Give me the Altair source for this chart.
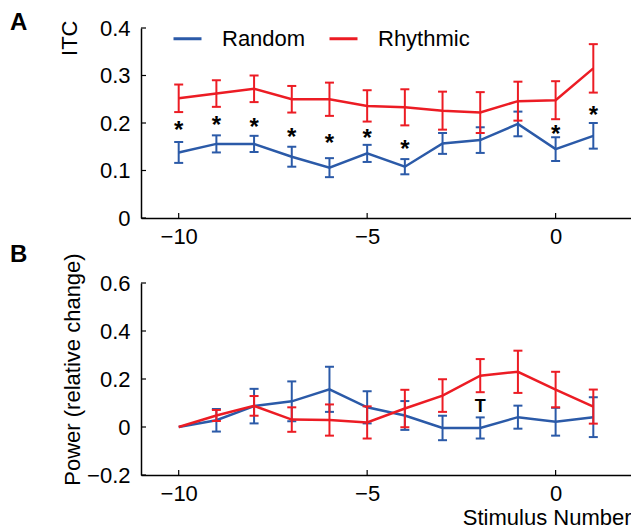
import altair as alt
import pandas as pd

# ---------------- data ----------------
stimulus = [-10, -9, -8, -7, -6, -5, -4, -3, -2, -1, 0, 1]
series = ["Random", "Rhythmic"]
colors = ["#2b5aa8", "#ec1c24"]

itc_random = [0.138, 0.156, 0.156, 0.129, 0.106, 0.136, 0.108, 0.157, 0.164, 0.198, 0.145, 0.173]
itc_random_err = [0.022, 0.018, 0.017, 0.021, 0.020, 0.018, 0.016, 0.022, 0.027, 0.026, 0.025, 0.027]
itc_rhythmic = [0.252, 0.262, 0.272, 0.250, 0.250, 0.236, 0.233, 0.226, 0.222, 0.246, 0.248, 0.315]
itc_rhythmic_err = [0.029, 0.028, 0.028, 0.028, 0.035, 0.033, 0.038, 0.040, 0.043, 0.041, 0.040, 0.051]
star_x = [-10, -9, -8, -7, -6, -5, -4, 0, 1]
star_y = [0.195, 0.206, 0.203, 0.182, 0.169, 0.178, 0.155, 0.187, 0.227]

pow_random = [0.0, 0.028, 0.087, 0.107, 0.157, 0.082, 0.048, -0.004, -0.004, 0.041, 0.022, 0.041]
pow_random_err = [0.0, 0.047, 0.072, 0.083, 0.094, 0.067, 0.060, 0.051, 0.044, 0.048, 0.058, 0.083]
pow_rhythmic = [0.0, 0.048, 0.088, 0.031, 0.029, 0.019, 0.077, 0.131, 0.214, 0.230, 0.156, 0.085]
pow_rhythmic_err = [0.0, 0.023, 0.041, 0.051, 0.065, 0.067, 0.078, 0.068, 0.069, 0.088, 0.074, 0.071]
t_x = [-2]
t_y = [0.085]

itc_ticks = [0, 0.1, 0.2, 0.3, 0.4]
pow_ticks = [-0.2, 0, 0.2, 0.4, 0.6]
x_ticks = [-10, -5, 0]

# ---------------- style ----------------
FONT = "Liberation Sans"
W = 490
H_TOP = 190
H_BOT = 192
XDOM = [-11, 2]


def frame(means, errs, name):
    return pd.DataFrame({
        "x": stimulus,
        "y": means,
        "err": errs,
        "lo": [m - e for m, e in zip(means, errs)],
        "hi": [m + e for m, e in zip(means, errs)],
        "series": name,
    })


def panel(data_pairs, ydom, yaxis, ytick_vals, xaxis, height, show_legend, extra):
    xs = alt.Scale(domain=XDOM, nice=False, zero=False)
    ys = alt.Scale(domain=ydom, nice=False, zero=False)
    cs = alt.Scale(domain=series, range=colors)

    def X(f):
        return alt.X(f, type="quantitative", scale=xs, axis=xaxis)

    def Y(f):
        return alt.Y(f, type="quantitative", scale=ys, axis=yaxis)

    layers = []
    for (df, name, col) in data_pairs:
        leg = alt.Legend(
            title=None, orient="none", legendX=31, legendY=-5,
            direction="horizontal", symbolType="stroke", symbolSize=784,
            symbolStrokeWidth=3, labelFont=FONT, labelFontSize=22,
            labelColor="black", labelOffset=19, columnPadding=17, padding=0,
        ) if show_legend else None
        line = alt.Chart(df).mark_line(strokeWidth=2.5).encode(
            x=X("x"), y=Y("y"),
            color=alt.Color("series:N", scale=cs, legend=leg),
        )
        bars = df[df["err"] > 0]
        rule = alt.Chart(bars).mark_rule(strokeWidth=2, color=col).encode(
            x=X("x"), y=Y("lo"), y2="hi",
        )
        caps_df = pd.concat([
            bars.assign(cap=bars["lo"]),
            bars.assign(cap=bars["hi"]),
        ])
        caps = alt.Chart(caps_df).mark_tick(
            orient="horizontal", size=9, thickness=2, color=col, opacity=1
        ).encode(x=X("x"), y=Y("cap"))
        layers += [line, rule, caps]

    # inward ticks on axes
    ytick_df = pd.DataFrame({"v": ytick_vals})
    ytk = alt.Chart(ytick_df).mark_rule(color="black", strokeWidth=1.2).encode(
        y=Y("v"), x=alt.value(0), x2=alt.value(5)
    )
    xtick_df = pd.DataFrame({"v": x_ticks})
    xtk = alt.Chart(xtick_df).mark_rule(color="black", strokeWidth=1.2).encode(
        x=X("v"), y=alt.value(height), y2=alt.value(height - 5)
    )
    layers += [ytk, xtk]
    layers += [e(X, Y) for e in extra]
    return alt.layer(*layers).properties(width=W, height=height)


top_y_axis = alt.Axis(
    values=itc_ticks,
    labelExpr="datum.value == 0 ? '0' : format(datum.value, '.1f')",
    title="ITC", titleAngle=270, titleAlign="right", titleBaseline="alphabetic",
    titleX=-65, titleY=-8, labelPadding=11,
)
bot_y_axis = alt.Axis(
    values=pow_ticks,
    labelExpr="datum.value == 0 ? '0' : format(datum.value, '.1f')",
    title="Power (relative change)", titleAngle=270, titleAlign="center",
    titleBaseline="alphabetic", titleX=-62, titleY=86, labelPadding=11,
)

top_x_axis = alt.Axis(values=x_ticks, title=None, labelPadding=8)
bot_x_axis = alt.Axis(
    values=x_ticks, title="Stimulus Number", titleAlign="right",
    titleAnchor="end", titleX=W, titleY=49, titleBaseline="alphabetic",
    labelPadding=8,
)

stars_df = pd.DataFrame({"x": star_x, "y": star_y})
t_df = pd.DataFrame({"x": t_x, "y": t_y})


def stars(X, Y):
    return alt.Chart(stars_df).mark_text(
        text="*", font=FONT, fontSize=24, fontWeight="bold", color="black",
        baseline="middle", dy=6,
    ).encode(x=X("x"), y=Y("y"))


def tmark(X, Y):
    return alt.Chart(t_df).mark_text(
        text="T", font=FONT, fontSize=18, fontWeight="bold", color="black",
        baseline="middle",
    ).encode(x=X("x"), y=Y("y"))


def letter(txt, yoff):
    def f(X, Y):
        return alt.Chart(pd.DataFrame({"t": [txt]})).mark_text(
            font=FONT, fontSize=24, fontWeight="bold", color="black",
            align="left", baseline="top",
        ).encode(x=alt.value(-131), y=alt.value(yoff), text="t:N")
    return f


top = panel(
    [(frame(itc_random, itc_random_err, "Random"), "Random", colors[0]),
     (frame(itc_rhythmic, itc_rhythmic_err, "Rhythmic"), "Rhythmic", colors[1])],
    [0, 0.4], top_y_axis, itc_ticks, top_x_axis, H_TOP, True,
    [stars, letter("A", -17)],
)
bottom = panel(
    [(frame(pow_random, pow_random_err, "Random"), "Random", colors[0]),
     (frame(pow_rhythmic, pow_rhythmic_err, "Rhythmic"), "Rhythmic", colors[1])],
    [-0.2, 0.6], bot_y_axis, pow_ticks, bot_x_axis, H_BOT, False,
    [tmark, letter("B", -40)],
)

chart = alt.vconcat(top, bottom, spacing=65, bounds="flush").resolve_scale(
    color="independent"
).resolve_legend(color="independent").properties(
    padding={"left": 2, "top": 3, "right": 0, "bottom": 0}
).configure_view(
    stroke=None
).configure_axis(
    labelFont=FONT, labelFontSize=22, labelColor="black",
    titleFont=FONT, titleFontSize=22, titleColor="black", titleFontWeight="normal",
    domainColor="black", domainWidth=1.5, ticks=False, tickSize=0, grid=False,
)

chart.save("out.html", embed_options={"renderer": "svg", "actions": False})
